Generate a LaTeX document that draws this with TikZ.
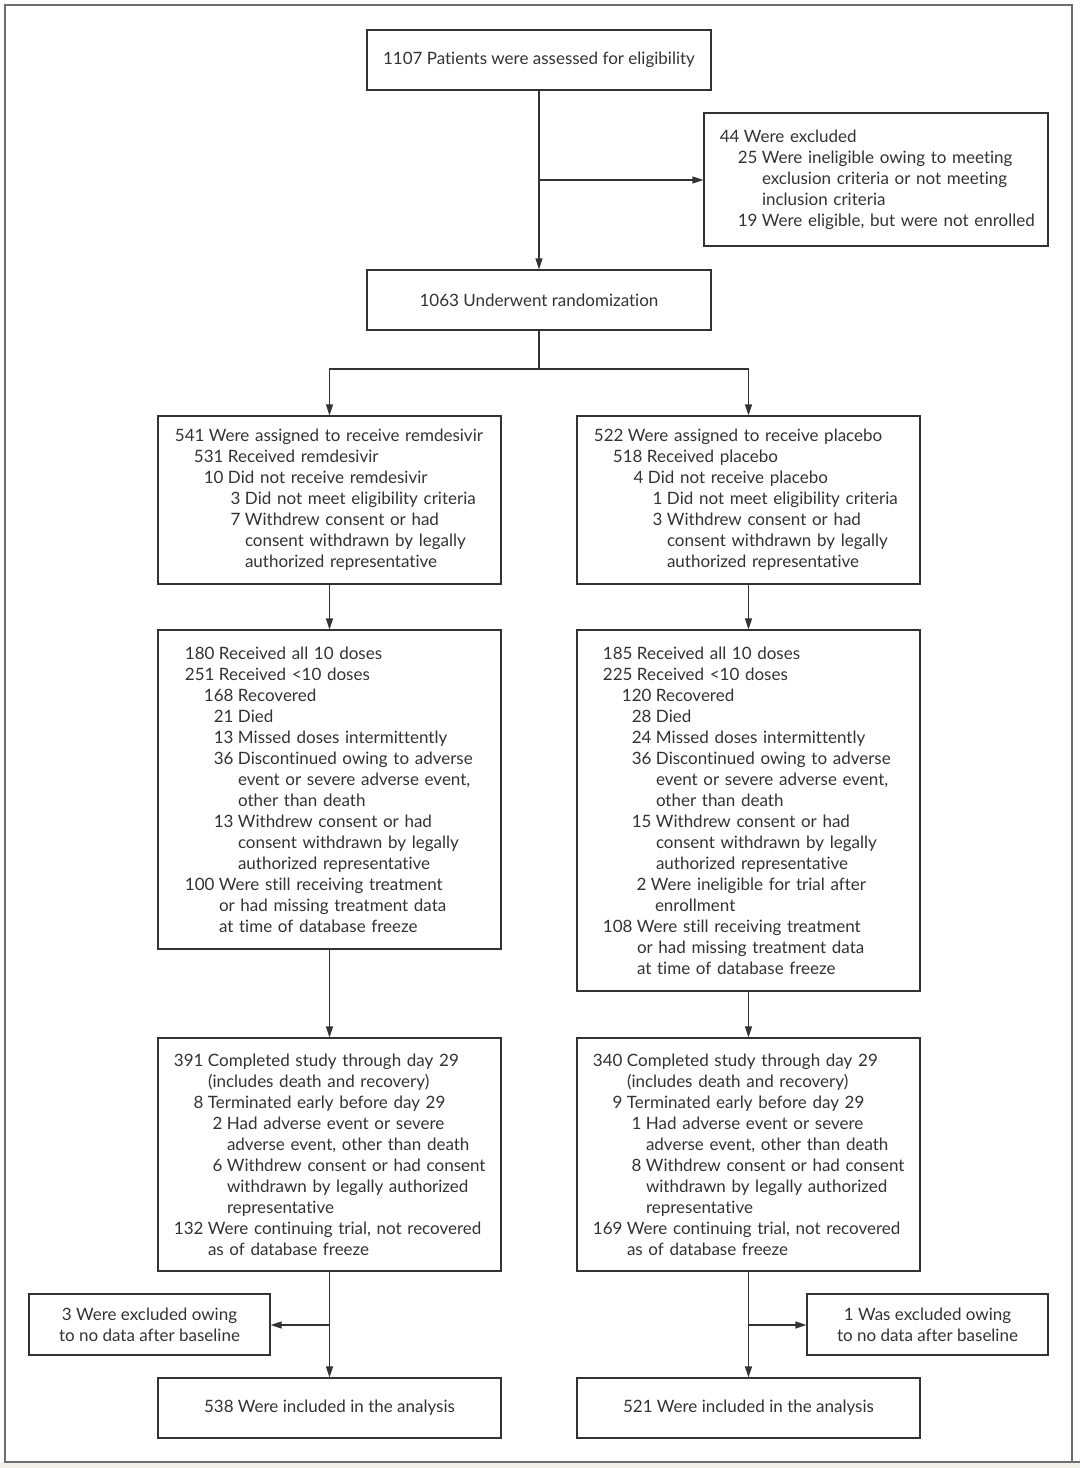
\documentclass[tikz,border=0pt]{standalone}
\usepackage{fontspec}
\setmainfont{Lato}[Ligatures={NoCommon,NoDiscretionary,NoRare}]
\usetikzlibrary{arrows.meta}
\newcommand\Tl[3]{\makebox[#1pt][r]{#2\hspace{4.5pt}}#3}
\definecolor{ink}{HTML}{333333}
\definecolor{frame}{HTML}{6E6E6E}
\definecolor{strip}{HTML}{F3F0EA}
\begin{document}
\begin{tikzpicture}[x=1pt,y=-1pt,
  box/.style={draw=ink, line width=1.3pt, inner sep=0pt, text=ink,
    font=\fontsize{17}{21}\selectfont},
  cbox/.style={box, align=center},
  lbox/.style={box, align=left},
  line/.style={draw=ink, line width=1.3pt},
  conn/.style={line, -{Triangle[length=11pt,width=7pt]}}]
\useasboundingbox (0,0) rectangle (1080,1468);
\fill[white] (0,0) rectangle (1080,1468);
\fill[strip] (0,1462) rectangle (1080,1468);
\draw[frame, line width=2pt] (5,1462) -- (5,5) -- (1072,5) -- (1072,1462);
\draw[frame, line width=2pt] (4,1462) -- (1080,1462);

\node[cbox, minimum width=344pt, minimum height=60pt] (top) at (539,60)
  {1107 Patients were assessed for eligibility};
\node[lbox, text width=344pt, minimum height=133pt] (excl) at (876,179.5)
  {\Tl{40}{44}{Were excluded}\\
   \Tl{58}{25}{Were ineligible owing to meeting}\\
   \Tl{58}{}{exclusion criteria or not meeting}\\
   \Tl{58}{}{inclusion criteria}\\
   \Tl{58}{19}{Were eligible, but were not enrolled}};
\node[cbox, minimum width=344pt, minimum height=60pt] (rand) at (539,300)
  {1063 Underwent randomization};

\node[lbox, text width=343pt, minimum height=168pt] (L1) at (329.5,500)
  {\Tl{51}{541}{Were assigned to receive remdesivir}\\
   \Tl{70}{531}{Received remdesivir}\\
   \Tl{70}{10}{Did not receive remdesivir}\\
   \Tl{87}{3}{Did not meet eligibility criteria}\\
   \Tl{87}{7}{Withdrew consent or had}\\
   \Tl{87}{}{consent withdrawn by legally}\\
   \Tl{87}{}{authorized representative}};
\node[lbox, text width=343pt, minimum height=168pt] (R1) at (748.5,500)
  {\Tl{51}{522}{Were assigned to receive placebo}\\
   \Tl{70}{518}{Received placebo}\\
   \Tl{71}{4}{Did not receive placebo}\\
   \Tl{90}{1}{Did not meet eligibility criteria}\\
   \Tl{90}{3}{Withdrew consent or had}\\
   \Tl{90}{}{consent withdrawn by legally}\\
   \Tl{90}{}{authorized representative}};

\node[lbox, text width=343pt, minimum height=319pt] (L2) at (329.5,789.5)
  {\Tl{61}{180}{Received all 10 doses}\\
   \Tl{61}{251}{Received <10 doses}\\
   \Tl{80}{168}{Recovered}\\
   \Tl{80}{21}{Died}\\
   \Tl{80}{13}{Missed doses intermittently}\\
   \Tl{80}{36}{Discontinued owing to adverse}\\
   \Tl{80}{}{event or severe adverse event,}\\
   \Tl{80}{}{other than death}\\
   \Tl{80}{13}{Withdrew consent or had}\\
   \Tl{80}{}{consent withdrawn by legally}\\
   \Tl{80}{}{authorized representative}\\
   \Tl{61}{100}{Were still receiving treatment}\\
   \Tl{61}{}{or had missing treatment data}\\
   \Tl{61}{}{at time of database freeze}};
\node[lbox, text width=343pt, minimum height=361pt] (R2) at (748.5,810.5)
  {\Tl{60}{185}{Received all 10 doses}\\
   \Tl{60}{225}{Received <10 doses}\\
   \Tl{79}{120}{Recovered}\\
   \Tl{79}{28}{Died}\\
   \Tl{79}{24}{Missed doses intermittently}\\
   \Tl{79}{36}{Discontinued owing to adverse}\\
   \Tl{79}{}{event or severe adverse event,}\\
   \Tl{79}{}{other than death}\\
   \Tl{79}{15}{Withdrew consent or had}\\
   \Tl{79}{}{consent withdrawn by legally}\\
   \Tl{79}{}{authorized representative}\\
   \Tl{74}{2}{Were ineligible for trial after}\\
   \Tl{78}{}{enrollment}\\
   \Tl{60}{108}{Were still receiving treatment}\\
   \Tl{60}{}{or had missing treatment data}\\
   \Tl{60}{}{at time of database freeze}};

\node[lbox, text width=343pt, minimum height=233pt] (L3) at (329.5,1154.5)
  {\Tl{50}{391}{Completed study through day 29}\\
   \Tl{50}{}{(includes death and recovery)}\\
   \Tl{50}{8}{Terminated early before day 29}\\
   \Tl{69}{2}{Had adverse event or severe}\\
   \Tl{69}{}{adverse event, other than death}\\
   \Tl{69}{6}{Withdrew consent or had consent}\\
   \Tl{69}{}{withdrawn by legally authorized}\\
   \Tl{69}{}{representative}\\
   \Tl{50}{132}{Were continuing trial, not recovered}\\
   \Tl{50}{}{as of database freeze}};
\node[lbox, text width=343pt, minimum height=233pt] (R3) at (748.5,1154.5)
  {\Tl{50}{340}{Completed study through day 29}\\
   \Tl{50}{}{(includes death and recovery)}\\
   \Tl{50}{9}{Terminated early before day 29}\\
   \Tl{69}{1}{Had adverse event or severe}\\
   \Tl{69}{}{adverse event, other than death}\\
   \Tl{69}{8}{Withdrew consent or had consent}\\
   \Tl{69}{}{withdrawn by legally authorized}\\
   \Tl{69}{}{representative}\\
   \Tl{50}{169}{Were continuing trial, not recovered}\\
   \Tl{50}{}{as of database freeze}};

\node[cbox, minimum width=241pt, minimum height=61pt] (LX) at (149.5,1324.5)
  {3 Were excluded owing\\to no data after baseline};
\node[cbox, minimum width=241pt, minimum height=61pt] (RX) at (927.5,1324.5)
  {1 Was excluded owing\\to no data after baseline};
\node[cbox, minimum width=343pt, minimum height=60pt] (LF) at (329.5,1408)
  {538 Were included in the analysis};
\node[cbox, minimum width=343pt, minimum height=60pt] (RF) at (748.5,1408)
  {521 Were included in the analysis};

\coordinate (b1) at (539,180);
\coordinate (sp) at (539,369);
\coordinate (bl) at (329.5,1325);
\coordinate (br) at (748.5,1325);

\draw[conn] (top.south) -- (rand.north);
\draw[conn] (b1) -- (excl.west |- b1);
\draw[line] (rand.south) -- (sp);
\draw[conn] (sp) -| (L1.north);
\draw[conn] (sp) -| (R1.north);
\draw[conn] (L1.south) -- (L2.north);
\draw[conn] (R1.south) -- (R2.north);
\draw[conn] (L2.south) -- (L3.north);
\draw[conn] (R2.south) -- (R3.north);
\draw[conn] (L3.south) -- (LF.north);
\draw[conn] (R3.south) -- (RF.north);
\draw[conn] (bl) -- (LX.east |- bl);
\draw[conn] (br) -- (RX.west |- br);
\end{tikzpicture}
\end{document}
